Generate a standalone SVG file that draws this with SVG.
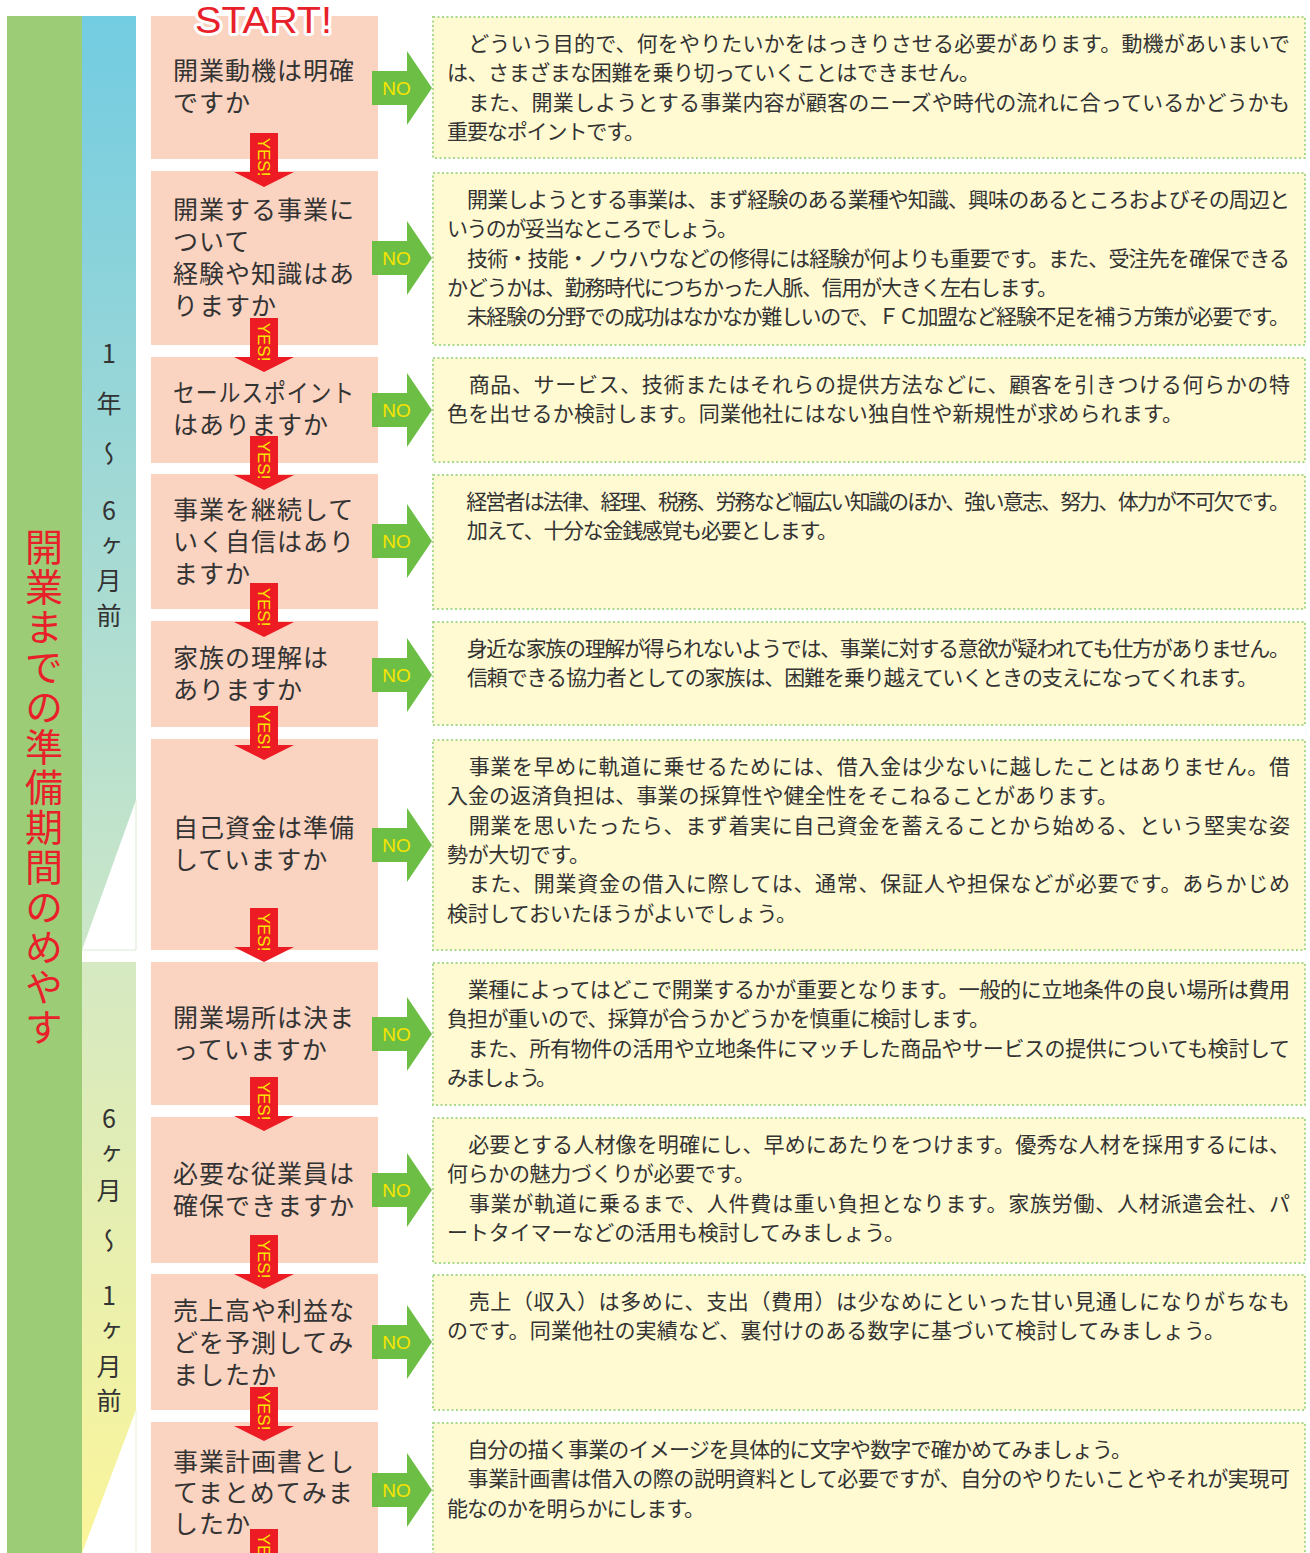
<svg xmlns="http://www.w3.org/2000/svg" width="1310" height="1553" viewBox="0 0 1310 1553">
<defs>
<style>
.q{font-family:"Noto Sans CJK JP","Noto Sans",sans-serif;font-size:25px;fill:#333;letter-spacing:1px}
.d{font-family:"Noto Sans CJK JP","Noto Sans",sans-serif;font-size:21px;fill:#333}
.qb{fill:#FBD3C1}
.tb{fill:#FFFAD2;stroke:#A8D98C;stroke-width:2;stroke-dasharray:2 2.5}
.na{fill:#6CBE45}
.ya{fill:#ED1C24}
.lbl{font-family:"Liberation Sans",Arial,sans-serif;fill:#F7E400}
.vt{writing-mode:vertical-rl;text-orientation:upright}
.col{font-family:"Noto Sans CJK JP","Noto Sans",sans-serif;font-size:25px;fill:#333}
.side{font-family:"Noto Sans CJK JP","Noto Sans",sans-serif;font-size:38px;fill:#E8202A;letter-spacing:2px}
</style>
<linearGradient id="g1" x1="0" y1="16" x2="0" y2="950" gradientUnits="userSpaceOnUse">
<stop offset="0" stop-color="#72CCE1"/>
<stop offset="0.5" stop-color="#A0D8D5"/>
<stop offset="1" stop-color="#CCE7C8"/>
</linearGradient>
<linearGradient id="g2" x1="0" y1="962" x2="0" y2="1553" gradientUnits="userSpaceOnUse">
<stop offset="0" stop-color="#D5E9C2"/>
<stop offset="1" stop-color="#FBF59A"/>
</linearGradient>
<path id="noA" d="M372,-17 H407 V-37 L432,0 L407,37 V17 H372 Z"/>
<path id="yesA" d="M250,-54 H278 V-15 H294 L264,0 L234,-15 H250 Z"/>
</defs>

<g id="sidebar">
<rect x="7" y="16" width="75" height="1537" fill="#9DCC76"/>
<text class="side vt" x="44" y="528">開業までの準備期間のめやす</text>
</g>

<g id="period1">
<polygon points="82,16 136,16 136,800 82,950" fill="url(#g1)"/>
<polyline points="136,800 136,950 82,950" fill="none" stroke="#D9EBD2" stroke-width="1"/>
<text class="col vt" x="109" y="340.5 390.5 440.5 497.5 532.5 567.5 602.5">1年～6ヶ月前</text>
</g>

<g id="period2">
<polygon points="82,962 136,962 136,1410 82,1553" fill="url(#g2)"/>
<polyline points="136,1410 136,1553" fill="none" stroke="#EEF2D0" stroke-width="1"/>
<text class="col vt" x="109" y="1105.5 1140.5 1177.5 1227.5 1282.5 1317.5 1353.5 1387.5">6ヶ月～1ヶ月前</text>
</g>

<g id="q1">
<rect class="qb" x="151" y="16" width="227" height="143"/>
<text class="q"><tspan x="173" y="80">開業動機は明確</tspan><tspan x="173" y="112">ですか</tspan></text>
</g>
<g id="q2">
<rect class="qb" x="151" y="171" width="227" height="174"/>
<text class="q"><tspan x="173" y="219">開業する事業に</tspan><tspan x="173" y="251">ついて</tspan><tspan x="173" y="283">経験や知識はあ</tspan><tspan x="173" y="315">りますか</tspan></text>
</g>
<g id="q3">
<rect class="qb" x="151" y="357" width="227" height="106"/>
<text class="q"><tspan x="173" y="402" textLength="182" lengthAdjust="spacingAndGlyphs">セールスポイント</tspan><tspan x="173" y="434">はありますか</tspan></text>
</g>
<g id="q4">
<rect class="qb" x="151" y="474" width="227" height="135"/>
<text class="q"><tspan x="173" y="519">事業を継続して</tspan><tspan x="173" y="551">いく自信はあり</tspan><tspan x="173" y="583">ますか</tspan></text>
</g>
<g id="q5">
<rect class="qb" x="151" y="621" width="227" height="106"/>
<text class="q"><tspan x="173" y="667">家族の理解は</tspan><tspan x="173" y="699">ありますか</tspan></text>
</g>
<g id="q6">
<rect class="qb" x="151" y="739" width="227" height="211"/>
<text class="q"><tspan x="173" y="837">自己資金は準備</tspan><tspan x="173" y="869">していますか</tspan></text>
</g>
<g id="q7">
<rect class="qb" x="151" y="962" width="227" height="143"/>
<text class="q"><tspan x="173" y="1027">開業場所は決ま</tspan><tspan x="173" y="1059">っていますか</tspan></text>
</g>
<g id="q8">
<rect class="qb" x="151" y="1117" width="227" height="146"/>
<text class="q"><tspan x="173" y="1183">必要な従業員は</tspan><tspan x="173" y="1215">確保できますか</tspan></text>
</g>
<g id="q9">
<rect class="qb" x="151" y="1274" width="227" height="136"/>
<text class="q"><tspan x="173" y="1320">売上高や利益な</tspan><tspan x="173" y="1352">どを予測してみ</tspan><tspan x="173" y="1384">ましたか</tspan></text>
</g>
<g id="q10">
<rect class="qb" x="151" y="1422" width="227" height="140"/>
<text class="q"><tspan x="173" y="1471">事業計画書とし</tspan><tspan x="173" y="1502">てまとめてみま</tspan><tspan x="173" y="1533">したか</tspan></text>
</g>

<g id="start">
<text x="263.5" y="33" text-anchor="middle" font-family="Liberation Sans, Arial, sans-serif" font-size="37" fill="#E8202A" stroke="#FFFFFF" stroke-width="6" stroke-linejoin="round" paint-order="stroke" textLength="137" lengthAdjust="spacingAndGlyphs">START!</text>
</g>

<g id="a1">
<rect class="tb" x="433" y="17" width="872" height="141"/>
<text class="d">
<tspan x="447" y="51" textLength="843">　どういう目的で、何をやりたいかをはっきりさせる必要があります。動機があいまいで</tspan>
<tspan x="447" y="80.3" textLength="533">は、さまざまな困難を乗り切っていくことはできません。</tspan>
<tspan x="447" y="109.6" textLength="843">　また、開業しようとする事業内容が顧客のニーズや時代の流れに合っているかどうかも</tspan>
<tspan x="447" y="138.9" textLength="198">重要なポイントです。</tspan>
</text>
</g>
<g id="a2">
<rect class="tb" x="433" y="173" width="872" height="172"/>
<text class="d">
<tspan x="447" y="207" textLength="843">　開業しようとする事業は、まず経験のある業種や知識、興味のあるところおよびその周辺と</tspan>
<tspan x="447" y="236.3" textLength="291">いうのが妥当なところでしょう。</tspan>
<tspan x="447" y="265.6" textLength="843">　技術・技能・ノウハウなどの修得には経験が何よりも重要です。また、受注先を確保できる</tspan>
<tspan x="447" y="294.9" textLength="611">かどうかは、勤務時代につちかった人脈、信用が大きく左右します。</tspan>
<tspan x="447" y="324.2" textLength="843">　未経験の分野での成功はなかなか難しいので、ＦＣ加盟など経験不足を補う方策が必要です。</tspan>
</text>
</g>
<g id="a3">
<rect class="tb" x="433" y="358" width="872" height="104"/>
<text class="d">
<tspan x="447" y="392" textLength="843">　商品、サービス、技術またはそれらの提供方法などに、顧客を引きつける何らかの特</tspan>
<tspan x="447" y="421.3" textLength="736">色を出せるか検討します。同業他社にはない独自性や新規性が求められます。</tspan>
</text>
</g>
<g id="a4">
<rect class="tb" x="433" y="475" width="872" height="134"/>
<text class="d">
<tspan x="447" y="509" textLength="843">　経営者は法律、経理、税務、労務など幅広い知識のほか、強い意志、努力、体力が不可欠です。</tspan>
<tspan x="447" y="538.3" textLength="391">　加えて、十分な金銭感覚も必要とします。</tspan>
</text>
</g>
<g id="a5">
<rect class="tb" x="433" y="622" width="872" height="103"/>
<text class="d">
<tspan x="447" y="656" textLength="843">　身近な家族の理解が得られないようでは、事業に対する意欲が疑われても仕方がありません。</tspan>
<tspan x="447" y="685.3" textLength="811">　信頼できる協力者としての家族は、困難を乗り越えていくときの支えになってくれます。</tspan>
</text>
</g>
<g id="a6">
<rect class="tb" x="433" y="740" width="872" height="210"/>
<text class="d">
<tspan x="447" y="774" textLength="843">　事業を早めに軌道に乗せるためには、借入金は少ないに越したことはありません。借</tspan>
<tspan x="447" y="803.3" textLength="671">入金の返済負担は、事業の採算性や健全性をそこねることがあります。</tspan>
<tspan x="447" y="832.6" textLength="843">　開業を思いたったら、まず着実に自己資金を蓄えることから始める、という堅実な姿</tspan>
<tspan x="447" y="861.9" textLength="143">勢が大切です。</tspan>
<tspan x="447" y="891.2" textLength="843">　また、開業資金の借入に際しては、通常、保証人や担保などが必要です。あらかじめ</tspan>
<tspan x="447" y="920.5" textLength="350">検討しておいたほうがよいでしょう。</tspan>
</text>
</g>
<g id="a7">
<rect class="tb" x="433" y="963" width="872" height="142"/>
<text class="d">
<tspan x="447" y="997" textLength="843">　業種によってはどこで開業するかが重要となります。一般的に立地条件の良い場所は費用</tspan>
<tspan x="447" y="1026.3" textLength="543">負担が重いので、採算が合うかどうかを慎重に検討します。</tspan>
<tspan x="447" y="1055.6" textLength="843">　また、所有物件の活用や立地条件にマッチした商品やサービスの提供についても検討して</tspan>
<tspan x="447" y="1084.9" textLength="110">みましょう。</tspan>
</text>
</g>
<g id="a8">
<rect class="tb" x="433" y="1118" width="872" height="145"/>
<text class="d">
<tspan x="447" y="1152" textLength="843">　必要とする人材像を明確にし、早めにあたりをつけます。優秀な人材を採用するには、</tspan>
<tspan x="447" y="1181.3" textLength="308">何らかの魅力づくりが必要です。</tspan>
<tspan x="447" y="1210.6" textLength="843">　事業が軌道に乗るまで、人件費は重い負担となります。家族労働、人材派遣会社、パ</tspan>
<tspan x="447" y="1239.9" textLength="458">ートタイマーなどの活用も検討してみましょう。</tspan>
</text>
</g>
<g id="a9">
<rect class="tb" x="433" y="1275" width="872" height="135"/>
<text class="d">
<tspan x="447" y="1309" textLength="843">　売上（収入）は多めに、支出（費用）は少なめにといった甘い見通しになりがちなも</tspan>
<tspan x="447" y="1338.3" textLength="778">のです。同業他社の実績など、裏付けのある数字に基づいて検討してみましょう。</tspan>
</text>
</g>
<g id="a10">
<rect class="tb" x="433" y="1423" width="872" height="150"/>
<text class="d">
<tspan x="447" y="1457" textLength="685">　自分の描く事業のイメージを具体的に文字や数字で確かめてみましょう。</tspan>
<tspan x="447" y="1486.3" textLength="843">　事業計画書は借入の際の説明資料として必要ですが、自分のやりたいことやそれが実現可</tspan>
<tspan x="447" y="1515.6" textLength="258">能なのかを明らかにします。</tspan>
</text>
</g>

<g id="connectors">
<g id="no-arrows">
<use href="#noA" class="na" y="88"/>
<use href="#noA" class="na" y="258"/>
<use href="#noA" class="na" y="410"/>
<use href="#noA" class="na" y="541"/>
<use href="#noA" class="na" y="675"/>
<use href="#noA" class="na" y="845"/>
<use href="#noA" class="na" y="1034"/>
<use href="#noA" class="na" y="1190"/>
<use href="#noA" class="na" y="1342"/>
<use href="#noA" class="na" y="1490"/>
<g class="lbl" font-size="19" text-anchor="middle">
<text x="396.5" y="95">NO</text>
<text x="396.5" y="265">NO</text>
<text x="396.5" y="417">NO</text>
<text x="396.5" y="548">NO</text>
<text x="396.5" y="682">NO</text>
<text x="396.5" y="852">NO</text>
<text x="396.5" y="1041">NO</text>
<text x="396.5" y="1197">NO</text>
<text x="396.5" y="1349">NO</text>
<text x="396.5" y="1497">NO</text>
</g>
</g>
<g id="yes-arrows">
<use href="#yesA" class="ya" y="187"/>
<use href="#yesA" class="ya" y="372"/>
<use href="#yesA" class="ya" y="490"/>
<use href="#yesA" class="ya" y="637"/>
<use href="#yesA" class="ya" y="760"/>
<use href="#yesA" class="ya" y="962"/>
<use href="#yesA" class="ya" y="1131"/>
<use href="#yesA" class="ya" y="1289"/>
<use href="#yesA" class="ya" y="1441"/>
<use href="#yesA" class="ya" y="1583"/>
<g class="lbl" font-size="17" text-anchor="middle">
<text transform="translate(264,157) rotate(90)" y="6">YES!</text>
<text transform="translate(264,342) rotate(90)" y="6">YES!</text>
<text transform="translate(264,460) rotate(90)" y="6">YES!</text>
<text transform="translate(264,607) rotate(90)" y="6">YES!</text>
<text transform="translate(264,730) rotate(90)" y="6">YES!</text>
<text transform="translate(264,932) rotate(90)" y="6">YES!</text>
<text transform="translate(264,1101) rotate(90)" y="6">YES!</text>
<text transform="translate(264,1259) rotate(90)" y="6">YES!</text>
<text transform="translate(264,1411) rotate(90)" y="6">YES!</text>
<text transform="translate(264,1553) rotate(90)" y="6">YES!</text>
</g>
</g>
</g>
</svg>
